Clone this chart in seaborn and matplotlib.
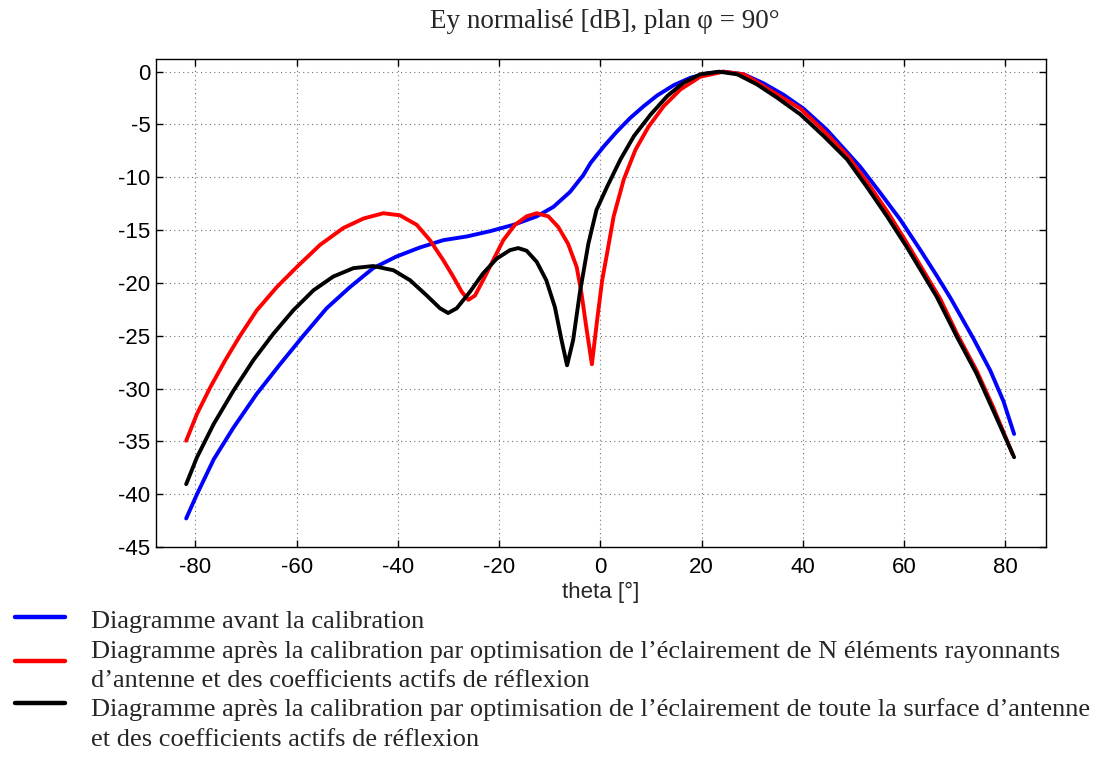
import pandas as pd
import matplotlib
matplotlib.use("Agg")
import matplotlib.pyplot as plt
import seaborn as sns
from matplotlib.lines import Line2D

# curve avant calibration (blue)
theta_avant = [-81.84, -79.7, -76.4, -72.5, -67.9, -63.3, -58.7, -54.1, -49.5, -44.9,
               -40.3, -35.7, -31.05, -26.4, -21.8, -17.2, -12.6, -9.3, -6.05, -3.4,
               -1.97, 0.66, 3.3, 5.9, 8.55, 11.2, 14.5, 17.8, 21.05, 24.3,
               28.3, 32.2, 36.2, 40.1, 44.7, 51.3, 55.3, 59.2, 63.2, 66.4,
               69.1, 70.4, 73.7, 77.0, 79.6, 81.7]
db_avant = [-42.3, -40.0, -36.7, -33.7, -30.5, -27.7, -25.0, -22.4, -20.4, -18.6,
            -17.5, -16.65, -15.95, -15.6, -15.1, -14.5, -13.7, -12.8, -11.4, -9.8,
            -8.65, -7.07, -5.64, -4.37, -3.26, -2.25, -1.27, -0.57, -0.16, 0.0,
            -0.25, -1.1, -2.2, -3.5, -5.5, -9.0, -11.5, -14.0, -16.9, -19.3,
            -21.4, -22.5, -25.3, -28.3, -31.2, -34.3]

# curve N elements (red)
theta_n = [-81.84, -79.7, -77.1, -74.1, -71.2, -67.9, -63.95, -60.0, -55.4, -50.8,
           -46.8, -42.9, -39.6, -36.3, -33.7, -31.05, -29.1, -27.4, -26.1, -24.8,
           -23.2, -21.2, -19.2, -16.9, -14.6, -12.6, -10.3, -8.35, -6.4, -4.7,
           -3.75, -2.8, -1.7, -0.66, 0.33, 1.3, 2.6, 4.6, 6.9, 9.5,
           12.5, 15.8, 19.7, 24.3, 28.3, 30.9, 34.9, 39.5, 44.1, 48.7,
           52.6, 56.6, 60.5, 67.1, 70.4, 74.3, 77.6, 81.4]
db_n = [-34.94, -32.4, -29.9, -27.3, -25.0, -22.6, -20.4, -18.5, -16.4, -14.8,
        -13.9, -13.4, -13.6, -14.5, -15.95, -17.85, -19.4, -20.85, -21.6, -21.2,
        -19.75, -17.85, -15.95, -14.5, -13.7, -13.4, -13.7, -14.7, -16.3, -18.5,
        -21.0, -24.2, -27.7, -23.5, -19.75, -17.2, -13.7, -10.2, -7.4, -5.2,
        -3.26, -1.68, -0.48, 0.0, -0.25, -0.98, -2.16, -3.5, -5.6, -7.9,
        -10.4, -13.2, -16.2, -21.5, -24.8, -28.3, -31.8, -36.2]

# curve toute la surface (black)
theta_s = [-81.84, -79.7, -76.4, -72.5, -68.55, -64.6, -60.7, -56.7, -52.8, -48.8,
           -44.9, -40.9, -37.6, -34.3, -31.7, -30.1, -28.4, -25.8, -23.2, -20.5,
           -17.9, -16.25, -14.6, -12.6, -10.7, -9.0, -7.7, -6.6, -5.4, -4.1,
           -2.4, -0.8, 1.3, 3.95, 6.6, 9.9, 13.2, 16.4, 19.7, 23.4,
           27.0, 30.9, 34.9, 39.5, 44.1, 48.7, 52.6, 56.6, 60.5, 66.4,
           70.4, 74.3, 77.6, 81.7]
db_s = [-39.05, -36.5, -33.35, -30.2, -27.3, -24.8, -22.6, -20.7, -19.4, -18.6,
        -18.4, -18.8, -19.75, -21.2, -22.4, -22.85, -22.4, -20.85, -19.1, -17.7,
        -16.9, -16.7, -16.95, -18.0, -19.75, -22.3, -25.4, -27.8, -25.4, -21.0,
        -16.3, -13.1, -10.9, -8.3, -6.1, -4.06, -2.3, -1.05, -0.25, 0.0,
        -0.25, -1.2, -2.47, -4.05, -6.1, -8.3, -10.9, -13.7, -16.6, -21.3,
        -25.1, -28.6, -32.1, -36.5]

labels = [
    ["Diagramme avant la calibration"],
    ["Diagramme après la calibration par optimisation de l\u2019éclairement de N éléments rayonnants",
     "d\u2019antenne et des coefficients actifs de réflexion"],
    ["Diagramme après la calibration par optimisation de l\u2019éclairement de toute la surface d\u2019antenne",
     "et des coefficients actifs de réflexion"],
]
colors = ["#0000ff", "#ff0000", "#000000"]
xticks = [-80, -60, -40, -20, 0, 20, 40, 60, 80]
yticks = [0, -5, -10, -15, -20, -25, -30, -35, -40, -45]

df = pd.concat([
    pd.DataFrame({"theta": theta_avant, "db": db_avant, "serie": "avant"}),
    pd.DataFrame({"theta": theta_n, "db": db_n, "serie": "N"}),
    pd.DataFrame({"theta": theta_s, "db": db_s, "serie": "surface"}),
])

sns.set_style("ticks")
plt.rcParams["font.family"] = ["Liberation Sans", "DejaVu Sans"]
plt.rcParams["axes.unicode_minus"] = False

fig = plt.figure(figsize=(11.02, 7.58), dpi=100)
ax = fig.add_axes([156 / 1102, 1 - 547 / 758, 890 / 1102, 488 / 758])

sns.lineplot(data=df, x="theta", y="db", hue="serie",
             palette=dict(zip(["avant", "N", "surface"], colors)),
             estimator=None, sort=False, legend=False, linewidth=2.8, ax=ax)
for ln in ax.lines:
    ln.set_solid_joinstyle("round")

ax.set_xlim(-87.8, 88.0)
ax.set_ylim(-45, 1.2)
ax.set_xticks(xticks)
ax.set_yticks(yticks)
ax.grid(True, linestyle=(0, (1, 3)), color="0.45", linewidth=0.8)
ax.tick_params(direction="in", top=True, right=True, length=5, width=1,
               labelsize=16, colors="black")
ax.tick_params(axis="x", pad=7)
ax.tick_params(axis="y", pad=4)
for s in ax.spines.values():
    s.set_linewidth(1.0)
    s.set_color("black")
ax.set_ylabel("")
ax.set_xlabel("theta [°]", fontsize=16)
ax.xaxis.set_label_coords(0.5, -0.094)
ax.xaxis.label.set_va("center")

fig.text(605 / 1102, 1 - 21 / 758, "Ey normalisé [dB], plan φ = 90°",
         ha="center", va="center", fontsize=19.5, family="Liberation Serif")

# legend drawn by hand to follow the original layout
line_y = [617, 661, 703]
text_y = [[622], [652, 681], [710, 740]]
for c, ly, rows, ty in zip(colors, line_y, labels, text_y):
    fig.add_artist(Line2D([15 / 1102, 65 / 1102], [1 - ly / 758] * 2,
                          color=c, linewidth=3.2, transform=fig.transFigure))
    for r, y in zip(rows, ty):
        fig.text(91 / 1102, 1 - y / 758, r, ha="left", va="center",
                 fontsize=19, family="Liberation Serif")

fig.savefig("out.png", dpi=100)
